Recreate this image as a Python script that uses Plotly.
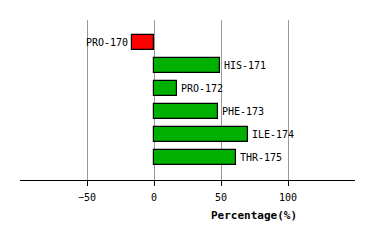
import plotly.graph_objects as go

residues = ["PRO-170", "HIS-171", "PRO-172", "PHE-173", "ILE-174", "THR-175"]
values = [-16.5, 49.5, 17.5, 48, 70, 61]
tick_vals = [-50, 0, 50, 100]
tick_text = ["\u221250", "0", "50", "100"]

colors = ["#ff0000" if v < 0 else "#00b000" for v in values]
ypos = list(range(len(residues)))

fig = go.Figure()
fig.add_trace(go.Bar(
    x=values, y=ypos, orientation="h",
    marker=dict(color=colors, line=dict(color="black", width=1.2)),
    width=0.66, showlegend=False, hoverinfo="skip",
))

for i, (r, v) in enumerate(zip(residues, values)):
    fig.add_annotation(
        x=v, y=i, text=r, showarrow=False,
        xanchor="left" if v >= 0 else "right",
        xshift=2 if v >= 0 else -2,
        font=dict(family="DejaVu Sans Mono", size=10, color="black"),
    )

fig.add_annotation(
    x=(254 - 20) / 335, y=-(215 - 180) / 160, xref="paper", yref="paper",
    text="<b>Percentage(%)</b>", showarrow=False,
    xanchor="center", yanchor="middle",
    font=dict(family="DejaVu Sans Mono", size=11, color="black"),
)

fig.update_layout(
    width=374, height=240,
    margin=dict(l=20, r=19, t=20, b=60),
    plot_bgcolor="white", paper_bgcolor="white",
    bargap=0,
    xaxis=dict(
        range=[-100, 150], tickvals=tick_vals, ticktext=tick_text,
        showgrid=True, gridcolor="#999999", gridwidth=1,
        zeroline=False, showline=True, linecolor="black", linewidth=1,
        ticks="outside", ticklen=5, tickcolor="black",
        ticklabelstandoff=3,
        tickfont=dict(family="DejaVu Sans Mono", size=10, color="black"),
        fixedrange=True,
    ),
    yaxis=dict(
        range=[6, -1], showticklabels=False, showgrid=False,
        zeroline=False, showline=False, fixedrange=True,
    ),
)

fig.write_html("out.html")
